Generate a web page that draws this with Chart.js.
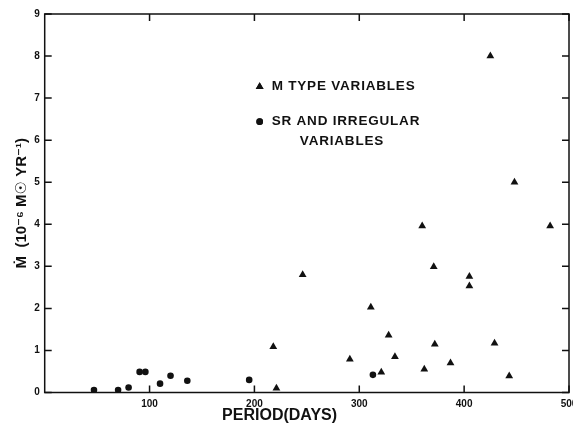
<!DOCTYPE html>
<html>
<head>
<meta charset="utf-8">
<script src="https://cdn.jsdelivr.net/npm/chart.js@4"></script>
<style>
  html, body { margin: 0; padding: 0; background: #fff; overflow: hidden; }
  #wrap { width: 573px; height: 424px; overflow: hidden; }
  #box { width: 590px; height: 424px; }
</style>
</head>
<body>
<div id="wrap"><div id="box"><canvas id="chart"></canvas></div></div>
<script>
// M type variables (triangles)
const mPeriod = [218, 221, 246, 291, 311, 321, 328, 334, 360, 362, 371, 372, 387, 405, 405, 425, 429, 443, 448, 482];
const mRate   = [1.09, 0.10, 2.80, 0.79, 2.03, 0.48, 1.36, 0.85, 3.96, 0.55, 2.99, 1.15, 0.70, 2.76, 2.53, 8.00, 1.17, 0.39, 5.00, 3.96];

// SR and irregular variables (dots)
const srPeriod = [47, 70, 80, 90.5, 96, 110, 120, 136, 195, 313];
const srRate   = [0.06, 0.06, 0.12, 0.49, 0.49, 0.21, 0.40, 0.28, 0.30, 0.42];

const xTicks = [100, 200, 300, 400, 500];
const yTicks = [0, 1, 2, 3, 4, 5, 6, 7, 8, 9];

const legendLines = ['M TYPE VARIABLES', ['SR AND IRREGULAR', 'VARIABLES']];

const INK = '#111';
const FONT = '"Liberation Sans", Arial, "DejaVu Sans", sans-serif';

const toPts = (xs, ys) => xs.map((x, i) => ({ x, y: ys[i] }));

// ── frame + inward ticks, legend, x title ──────────
const framePlugin = {
  id: 'frame',
  afterDraw(chart) {
    const { ctx, chartArea: a, scales } = chart;
    const sx = scales.x, sy = scales.y;
    const len = 7;
    ctx.save();
    ctx.strokeStyle = INK;
    ctx.lineWidth = 1.5;
    ctx.strokeRect(a.left, a.top, a.right - a.left, a.bottom - a.top);
    ctx.beginPath();
    xTicks.forEach(v => {
      const px = sx.getPixelForValue(v);
      ctx.moveTo(px, a.bottom); ctx.lineTo(px, a.bottom - len);
      ctx.moveTo(px, a.top);    ctx.lineTo(px, a.top + len);
    });
    yTicks.forEach(v => {
      const py = sy.getPixelForValue(v);
      ctx.moveTo(a.left, py);  ctx.lineTo(a.left + len, py);
      ctx.moveTo(a.right, py); ctx.lineTo(a.right - len, py);
    });
    ctx.stroke();

    // legend inside plot
    const lx = sx.getPixelForValue(205);
    ctx.fillStyle = INK;
    ctx.font = 'bold 13.5px ' + FONT;
    ctx.letterSpacing = '0.8px';
    ctx.textBaseline = 'middle';
    const rows = [
      { style: 'triangle', r: 4.5, y: sy.getPixelForValue(7.27), text: legendLines[0] },
      { style: 'circle',   r: 3.3, y: sy.getPixelForValue(6.44), text: legendLines[1] }
    ];
    rows.forEach(row => {
      Chart.helpers.drawPoint(ctx, { pointStyle: row.style, radius: row.r, borderWidth: 0 }, lx, row.y);
      ctx.fill();
      const lines = Array.isArray(row.text) ? row.text : [row.text];
      ctx.textAlign = 'left';
      ctx.fillText(lines[0], lx + 12, row.y);
      if (lines[1]) {
        ctx.textAlign = 'center';
        ctx.fillText(lines[1], lx + 8 + ctx.measureText(lines[0]).width / 2, row.y + 20);
      }
    });

    // x axis title
    ctx.letterSpacing = '0px';
    ctx.font = 'bold 16px ' + FONT;
    ctx.textAlign = 'center';
    ctx.textBaseline = 'middle';
    ctx.fillText('PERIOD(DAYS)', sx.getPixelForValue(224), 416);
    ctx.restore();
  }
};

new Chart(document.getElementById('chart'), {
  type: 'scatter',
  data: {
    datasets: [
      {
        label: 'M TYPE VARIABLES',
        data: toPts(mPeriod, mRate),
        pointStyle: 'triangle',
        pointRadius: 4.5,
        backgroundColor: INK,
        borderColor: INK,
        borderWidth: 0
      },
      {
        label: 'SR AND IRREGULAR VARIABLES',
        data: toPts(srPeriod, srRate),
        pointStyle: 'circle',
        pointRadius: 3.3,
        backgroundColor: INK,
        borderColor: INK,
        borderWidth: 0
      }
    ]
  },
  options: {
    responsive: true, maintainAspectRatio: false,
    animation: false,
    layout: { padding: { top: 14, right: 21, left: 0, bottom: 0 } },
    plugins: { legend: { display: false }, tooltip: { enabled: false } },
    scales: {
      x: {
        type: 'linear', min: 0, max: 500,
        afterBuildTicks: s => { s.ticks = xTicks.map(v => ({ value: v })); },
        afterFit: s => { s.height = 31.5; },
        grid: { display: false, drawTicks: false },
        border: { display: false },
        ticks: { color: INK, padding: 6, maxRotation: 0, font: { family: FONT, size: 10, weight: 'bold' } }
      },
      y: {
        type: 'linear', min: 0, max: 9,
        afterBuildTicks: s => { s.ticks = yTicks.map(v => ({ value: v })); },
        afterFit: s => { s.width = 44.7; },
        grid: { display: false, drawTicks: false },
        border: { display: false },
        ticks: { color: INK, padding: 5, font: { family: FONT, size: 10, weight: 'bold' } },
        title: {
          display: true,
          text: 'Ṁ  (10⁻⁶ M☉ YR⁻¹)',
          color: INK,
          padding: { top: 13, bottom: 0 },
          font: { family: FONT, size: 15, weight: 'bold' }
        }
      }
    }
  },
  plugins: [framePlugin]
});
</script>
</body>
</html>
